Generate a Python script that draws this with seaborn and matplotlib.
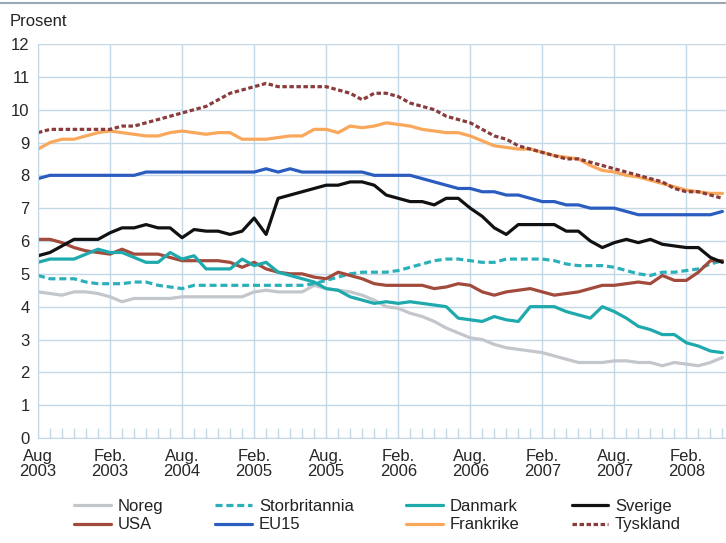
import numpy as np
import pandas as pd
import matplotlib
matplotlib.use("Agg")
import matplotlib.pyplot as plt
from matplotlib.lines import Line2D
from matplotlib.ticker import MultipleLocator
import seaborn as sns

# Monthly series, Aug 2003 -> May 2008 (58 months)
months = np.arange(58)

noreg = [4.45, 4.4, 4.35, 4.45, 4.45, 4.4, 4.3, 4.15, 4.25, 4.25, 4.25, 4.25, 4.3, 4.3, 4.3, 4.3, 4.3, 4.3,
         4.45, 4.5, 4.45, 4.45, 4.45, 4.65, 4.55, 4.5, 4.45, 4.35, 4.2, 4.0, 3.95, 3.8, 3.7, 3.55, 3.35, 3.2,
         3.05, 3.0, 2.85, 2.75, 2.7, 2.65, 2.6, 2.5, 2.4, 2.3, 2.3, 2.3, 2.35, 2.35, 2.3, 2.3, 2.2, 2.3,
         2.25, 2.2, 2.3, 2.45]
usa = [6.05, 6.05, 5.95, 5.8, 5.7, 5.65, 5.6, 5.75, 5.6, 5.6, 5.6, 5.5, 5.4, 5.4, 5.4, 5.4, 5.35, 5.2,
       5.35, 5.15, 5.05, 5.0, 5.0, 4.9, 4.85, 5.05, 4.95, 4.85, 4.7, 4.65, 4.65, 4.65, 4.65, 4.55, 4.6, 4.7,
       4.65, 4.45, 4.35, 4.45, 4.5, 4.55, 4.45, 4.35, 4.4, 4.45, 4.55, 4.65, 4.65, 4.7, 4.75, 4.7, 4.95, 4.8,
       4.8, 5.05, 5.4, 5.4]
storbritannia = [4.95, 4.85, 4.85, 4.85, 4.75, 4.7, 4.7, 4.7, 4.75, 4.75, 4.65, 4.6, 4.55, 4.65, 4.65, 4.65,
                 4.65, 4.65, 4.65, 4.65, 4.65, 4.65, 4.65, 4.7, 4.8, 4.9, 5.0, 5.05, 5.05, 5.05, 5.1, 5.2,
                 5.3, 5.4, 5.45, 5.45, 5.4, 5.35, 5.35, 5.45, 5.45, 5.45, 5.45, 5.4, 5.3, 5.25, 5.25, 5.25,
                 5.2, 5.1, 5.0, 4.95, 5.05, 5.05, 5.1, 5.15, 5.3, 5.4]
eu15 = [7.9, 8.0, 8.0, 8.0, 8.0, 8.0, 8.0, 8.0, 8.0, 8.1, 8.1, 8.1, 8.1, 8.1, 8.1, 8.1, 8.1, 8.1,
        8.1, 8.2, 8.1, 8.2, 8.1, 8.1, 8.1, 8.1, 8.1, 8.1, 8.0, 8.0, 8.0, 8.0, 7.9, 7.8, 7.7, 7.6,
        7.6, 7.5, 7.5, 7.4, 7.4, 7.3, 7.2, 7.2, 7.1, 7.1, 7.0, 7.0, 7.0, 6.9, 6.8, 6.8, 6.8, 6.8,
        6.8, 6.8, 6.8, 6.9]
danmark = [5.35, 5.45, 5.45, 5.45, 5.6, 5.75, 5.65, 5.65, 5.5, 5.35, 5.35, 5.65, 5.45, 5.55, 5.15, 5.15,
           5.15, 5.45, 5.25, 5.35, 5.05, 4.95, 4.85, 4.75, 4.55, 4.5, 4.3, 4.2, 4.1, 4.15, 4.1, 4.15,
           4.1, 4.05, 4.0, 3.65, 3.6, 3.55, 3.7, 3.6, 3.55, 4.0, 4.0, 4.0, 3.85, 3.75, 3.65, 4.0,
           3.85, 3.65, 3.4, 3.3, 3.15, 3.15, 2.9, 2.8, 2.65, 2.6]
frankrike = [8.8, 9.0, 9.1, 9.1, 9.2, 9.3, 9.35, 9.3, 9.25, 9.2, 9.2, 9.3, 9.35, 9.3, 9.25, 9.3, 9.3, 9.1,
             9.1, 9.1, 9.15, 9.2, 9.2, 9.4, 9.4, 9.3, 9.5, 9.45, 9.5, 9.6, 9.55, 9.5, 9.4, 9.35, 9.3, 9.3,
             9.2, 9.05, 8.9, 8.85, 8.8, 8.8, 8.7, 8.6, 8.55, 8.5, 8.3, 8.15, 8.1, 8.0, 7.95, 7.85, 7.75,
             7.65, 7.55, 7.5, 7.45, 7.45]
sverige = [5.55, 5.65, 5.85, 6.05, 6.05, 6.05, 6.25, 6.4, 6.4, 6.5, 6.4, 6.4, 6.1, 6.35, 6.3, 6.3, 6.2, 6.3,
           6.7, 6.2, 7.3, 7.4, 7.5, 7.6, 7.7, 7.7, 7.8, 7.8, 7.7, 7.4, 7.3, 7.2, 7.2, 7.1, 7.3, 7.3,
           7.0, 6.75, 6.4, 6.2, 6.5, 6.5, 6.5, 6.5, 6.3, 6.3, 6.0, 5.8, 5.95, 6.05, 5.95, 6.05, 5.9, 5.85,
           5.8, 5.8, 5.5, 5.35]
tyskland = [9.3, 9.4, 9.4, 9.4, 9.4, 9.4, 9.4, 9.5, 9.5, 9.6, 9.7, 9.8, 9.9, 10.0, 10.1, 10.3, 10.5, 10.6,
            10.7, 10.8, 10.7, 10.7, 10.7, 10.7, 10.7, 10.6, 10.5, 10.3, 10.5, 10.5, 10.4, 10.2, 10.1, 10.0,
            9.8, 9.7, 9.6, 9.4, 9.2, 9.1, 8.9, 8.8, 8.7, 8.6, 8.5, 8.5, 8.4, 8.3, 8.2, 8.1, 8.0, 7.9,
            7.8, 7.6, 7.5, 7.5, 7.4, 7.3]

tick_pos = [0, 6, 12, 18, 24, 30, 36, 42, 48, 54]
tick_labels = ["Aug\n2003", "Feb.\n2003", "Aug.\n2004", "Feb.\n2005", "Aug.\n2005",
               "Feb.\n2006", "Aug.\n2006", "Feb.\n2007", "Aug.\n2007", "Feb.\n2008"]

# name, values, colour, dashes (None = solid)
series = [
    ("Noreg", noreg, "#c3c7cb", None),
    ("USA", usa, "#a24a3c", None),
    ("Storbritannia", storbritannia, "#2bb0ba", (2.2, 1.2)),
    ("EU15", eu15, "#2b5cc0", None),
    ("Danmark", danmark, "#1ea9ad", None),
    ("Frankrike", frankrike, "#f9a75a", None),
    ("Sverige", sverige, "#111111", None),
    ("Tyskland", tyskland, "#8a3b3b", (1.4, 0.8)),
]

sns.set_style("white")
plt.rcParams["font.family"] = ["Liberation Sans", "DejaVu Sans"]
plt.rcParams["text.color"] = "#222222"

fig = plt.figure(figsize=(7.26, 5.43), dpi=100)
ax = fig.add_axes([38 / 726, 1 - 438 / 543, 1 - 38 / 726, (438 - 44) / 543])

grid_col = "#c2d8e6"
handles = {}
draw_order = ["Noreg", "Storbritannia", "USA", "Danmark", "EU15", "Sverige", "Frankrike", "Tyskland"]
lookup = {s[0]: s for s in series}
for name in draw_order:
    _, vals, col, dash = lookup[name]
    df = pd.DataFrame({"month": months, "value": vals})
    sns.lineplot(data=df, x="month", y="value", ax=ax, color=col, linewidth=2.3, legend=False)
    line = ax.lines[-1]
    if dash is not None:
        line.set_dashes(dash)
    handles[name] = line

ax.set_xlim(0, 57.3)
ax.set_ylim(0, 12)
ax.set_yticks(range(0, 13))
ax.set_xticks(tick_pos)
ax.set_xticklabels(tick_labels, linespacing=0.95)
ax.xaxis.set_minor_locator(MultipleLocator(1))
ax.set_xlabel("")
ax.set_ylabel("")

ax.grid(True, which="major", color=grid_col, linewidth=1.0)
ax.set_axisbelow(True)
for side in ["top", "right"]:
    ax.spines[side].set_visible(False)
ax.spines["left"].set_color(grid_col)
ax.spines["bottom"].set_color(grid_col)
ax.tick_params(axis="y", which="major", length=0, pad=6, labelsize=12)
ax.tick_params(axis="x", which="major", length=0, pad=8, labelsize=12)
ax.tick_params(axis="x", which="minor", direction="in", length=7, width=1, color=grid_col, bottom=True)

fig.text(10 / 726, 1 - 22 / 543, "Prosent", fontsize=12, va="center", ha="left")
fig.add_artist(Line2D([0, 1], [1 - 3 / 543, 1 - 3 / 543], color="#9aa9b3", linewidth=1.5))

order = ["Noreg", "USA", "Storbritannia", "EU15", "Danmark", "Frankrike", "Sverige", "Tyskland"]
fig.legend([handles[n] for n in order], order, loc="upper left",
           bbox_to_anchor=(74 / 726, 1 - 499 / 543), ncol=4, frameon=False, fontsize=12,
           handlelength=2.2, handletextpad=0.4, columnspacing=3.15, labelspacing=0.2,
           borderaxespad=0, borderpad=0)

fig.savefig("out.png", dpi=100)
